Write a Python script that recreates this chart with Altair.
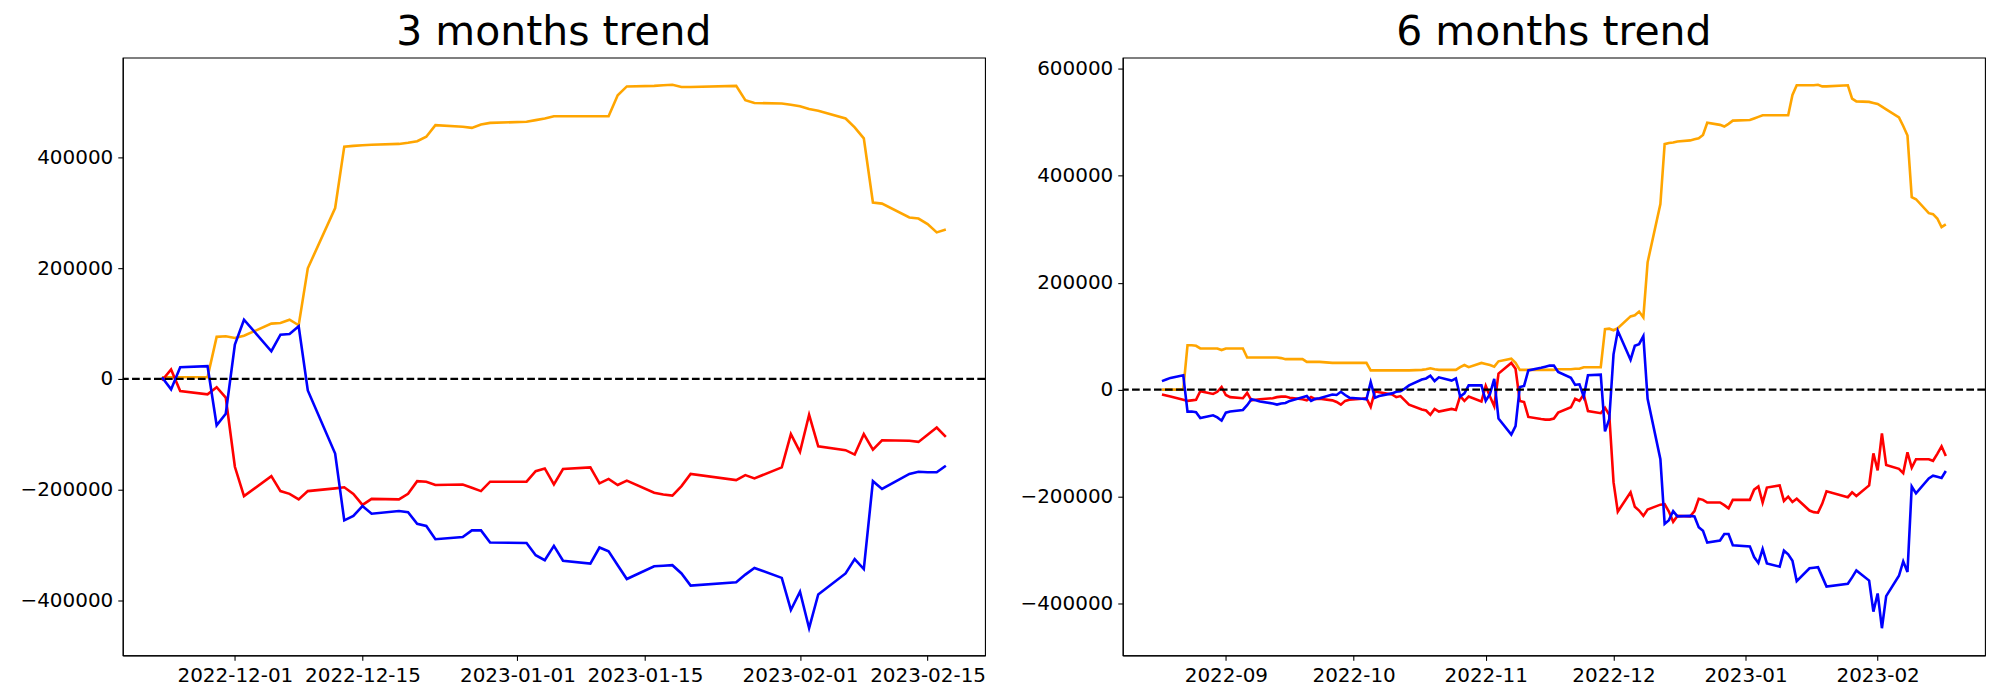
import altair as alt
import pandas as pd

# ---------------- 3 months panel ----------------
dates_3m = [
    "2022-11-23", "2022-11-24", "2022-11-25", "2022-11-28", "2022-11-29", "2022-11-30",
    "2022-12-01", "2022-12-02", "2022-12-05", "2022-12-06", "2022-12-07", "2022-12-08", "2022-12-09",
    "2022-12-12", "2022-12-13", "2022-12-14", "2022-12-15", "2022-12-16",
    "2022-12-19", "2022-12-20", "2022-12-21", "2022-12-22", "2022-12-23",
    "2022-12-26", "2022-12-27", "2022-12-28", "2022-12-29",
    "2023-01-02", "2023-01-03", "2023-01-04", "2023-01-05", "2023-01-06",
    "2023-01-09", "2023-01-10", "2023-01-11", "2023-01-12", "2023-01-13",
    "2023-01-16", "2023-01-17", "2023-01-18", "2023-01-19", "2023-01-20",
    "2023-01-25", "2023-01-26", "2023-01-27",
    "2023-01-30", "2023-01-31", "2023-02-01", "2023-02-02", "2023-02-03",
    "2023-02-06", "2023-02-07", "2023-02-08", "2023-02-09", "2023-02-10",
    "2023-02-13", "2023-02-14", "2023-02-15", "2023-02-16", "2023-02-17",
]
orange_3m = [
    3000, 3000, 3000, 3000, 76000, 77000,
    74000, 78000, 100000, 101000, 107000, 97000, 200000,
    309000, 420000, 421500, 422500, 423500,
    425000, 427000, 430000, 438000, 459000,
    456000, 454000, 460000, 463000,
    465000, 468000, 471000, 475000, 475000,
    475000, 475000, 475000, 513000, 529000,
    530000, 531000, 532000, 528000, 528000,
    530000, 504000, 499000,
    498000, 496000, 493000, 488000, 485000,
    471000, 455000, 435000, 319000, 317000,
    292000, 290000, 280000, 265000, 270000,
]
red_3m = [
    -3000, 17000, -22000, -28000, -15000, -34000,
    -159000, -212000, -176000, -203000, -208000, -218000, -203000,
    -198000, -196000, -208000, -228000, -217000,
    -218000, -208000, -185000, -186000, -192000,
    -191000, -197000, -203000, -186000,
    -186000, -167000, -162000, -191000, -163000,
    -160000, -189000, -181000, -192000, -184000,
    -206000, -209000, -211000, -194000, -172000,
    -183000, -174000, -180000,
    -160000, -100000, -132000, -65000, -122000,
    -129000, -137000, -100000, -128000, -111000,
    -112000, -114000, -101000, -88000, -105000,
]
blue_3m = [
    3000, -19000, 21000, 23000, -84000, -63000,
    62000, 107000, 50000, 80000, 81000, 95000, -21000,
    -135000, -256000, -248000, -230000, -244000,
    -239000, -241000, -262000, -266000, -290000,
    -286000, -274000, -274000, -296000,
    -297000, -319000, -328000, -302000, -329000,
    -334000, -305000, -312000, -337000, -362000,
    -339000, -338000, -337000, -352000, -374000,
    -368000, -354000, -342000,
    -360000, -418000, -385000, -451000, -390000,
    -352000, -326000, -344000, -185000, -199000,
    -172000, -168000, -169000, -169000, -157000,
]

# ---------------- 6 months panel ----------------
dates_6m = [
    "2022-08-17", "2022-08-18", "2022-08-19", "2022-08-22", "2022-08-23", "2022-08-24",
    "2022-08-25", "2022-08-26", "2022-08-29", "2022-08-30", "2022-08-31",
    "2022-09-01", "2022-09-02", "2022-09-05", "2022-09-06", "2022-09-07", "2022-09-08",
    "2022-09-09", "2022-09-12", "2022-09-13", "2022-09-14", "2022-09-15", "2022-09-16",
    "2022-09-19", "2022-09-20", "2022-09-21", "2022-09-22", "2022-09-23", "2022-09-26",
    "2022-09-27", "2022-09-28", "2022-09-29", "2022-09-30",
    "2022-10-03", "2022-10-04", "2022-10-05", "2022-10-06", "2022-10-07", "2022-10-10",
    "2022-10-11", "2022-10-12", "2022-10-13", "2022-10-14", "2022-10-17", "2022-10-18",
    "2022-10-19", "2022-10-20", "2022-10-21", "2022-10-24", "2022-10-25", "2022-10-26",
    "2022-10-27", "2022-10-28", "2022-10-31",
    "2022-11-01", "2022-11-02", "2022-11-03", "2022-11-04", "2022-11-07", "2022-11-08",
    "2022-11-09", "2022-11-10", "2022-11-11", "2022-11-14", "2022-11-15", "2022-11-16",
    "2022-11-17", "2022-11-18", "2022-11-21", "2022-11-22",
    "2022-11-23", "2022-11-24", "2022-11-25", "2022-11-28", "2022-11-29", "2022-11-30",
    "2022-12-01", "2022-12-02", "2022-12-05", "2022-12-06", "2022-12-07", "2022-12-08", "2022-12-09",
    "2022-12-12", "2022-12-13", "2022-12-14", "2022-12-15", "2022-12-16",
    "2022-12-19", "2022-12-20", "2022-12-21", "2022-12-22", "2022-12-23",
    "2022-12-26", "2022-12-27", "2022-12-28", "2022-12-29",
    "2023-01-02", "2023-01-03", "2023-01-04", "2023-01-05", "2023-01-06",
    "2023-01-09", "2023-01-10", "2023-01-11", "2023-01-12", "2023-01-13",
    "2023-01-16", "2023-01-17", "2023-01-18", "2023-01-19", "2023-01-20",
    "2023-01-25", "2023-01-26", "2023-01-27",
    "2023-01-30", "2023-01-31", "2023-02-01", "2023-02-02", "2023-02-03",
    "2023-02-06", "2023-02-07", "2023-02-08", "2023-02-09", "2023-02-10",
    "2023-02-13", "2023-02-14", "2023-02-15", "2023-02-16", "2023-02-17",
]
orange_6m = [
    0, 0, 0, 0, 83000, 83000,
    82000, 77000, 77000, 77000, 74000,
    77000, 77000, 77000, 60000, 60000, 60000,
    60000, 60000, 60000, 59000, 57000, 57000,
    57000, 52000, 52000, 52000, 52000, 50000,
    50000, 50000, 50000, 50000,
    50000, 50000, 36000, 36000, 36000, 36000,
    36000, 36000, 36000, 36000, 37000, 38000,
    40000, 38000, 37000, 37000, 37000, 42000,
    46000, 42000, 50000,
    48000, 46000, 43000, 53000, 58000, 50000,
    37000, 37000, 37000, 37000, 37000, 37000,
    37000, 38000, 38000, 39000,
    39000, 42000, 42000, 42000, 113000, 114000,
    111000, 115000, 137000, 139000, 146000, 135000, 238000,
    347000, 459000, 461000, 462000, 464000,
    466000, 468000, 470000, 476000, 499000,
    495000, 492000, 497000, 503000,
    504000, 507000, 510000, 513000, 513000,
    513000, 513000, 513000, 551000, 569000,
    569000, 569000, 570000, 567000, 567000,
    569000, 544000, 539000,
    538000, 536000, 534000, 529000, 524000,
    509000, 493000, 475000, 360000, 356000,
    330000, 328000, 320000, 304000, 309000,
]
red_6m = [
    -9000, -11000, -13000, -19000, -21000, -20000,
    -19000, -3000, -8000, -4000, 5000,
    -10000, -14000, -16000, -6000, -20000, -19000,
    -18000, -16000, -14000, -13000, -13000, -15000,
    -18000, -20000, -14000, -18000, -17000, -20000,
    -23000, -28000, -21000, -19000,
    -17000, -16000, -32000, -3000, -5000, -9000,
    -14000, -12000, -20000, -28000, -37000, -39000,
    -47000, -36000, -41000, -36000, -38000, -12000,
    -21000, -13000, -22000,
    7000, -13000, -31000, 30000, 50000, 39000,
    -21000, -23000, -51000, -55000, -56000, -56000,
    -54000, -43000, -33000, -17000,
    -21000, -9000, -40000, -44000, -34000, -47000,
    -173000, -228000, -192000, -219000, -226000, -236000, -224000,
    -215000, -214000, -228000, -247000, -236000,
    -237000, -227000, -204000, -206000, -211000,
    -211000, -216000, -222000, -206000,
    -206000, -187000, -181000, -211000, -183000,
    -179000, -208000, -200000, -210000, -204000,
    -226000, -229000, -230000, -213000, -190000,
    -201000, -192000, -199000,
    -179000, -119000, -151000, -82000, -141000,
    -148000, -156000, -117000, -146000, -130000,
    -130000, -133000, -120000, -106000, -124000,
]
blue_6m = [
    16000, 19000, 22000, 27000, -41000, -41000,
    -42000, -53000, -48000, -52000, -58000,
    -43000, -41000, -38000, -29000, -18000, -20000,
    -22000, -26000, -28000, -26000, -25000, -21000,
    -14000, -12000, -21000, -17000, -16000, -9000,
    -10000, -4000, -10000, -15000,
    -17000, -18000, 14000, -15000, -12000, -7000,
    -4000, -3000, 2000, 8000, 19000, 21000,
    26000, 16000, 23000, 17000, 21000, -13000,
    -7000, 8000, 8000,
    -21000, -8000, 20000, -54000, -84000, -68000,
    5000, 7000, 36000, 41000, 43000, 45000,
    45000, 33000, 22000, 9000,
    10000, -13000, 27000, 28000, -78000, -55000,
    66000, 110000, 56000, 82000, 85000, 100000, -17000,
    -130000, -251000, -244000, -227000, -237000,
    -236000, -237000, -257000, -264000, -286000,
    -282000, -270000, -270000, -291000,
    -293000, -313000, -324000, -298000, -325000,
    -331000, -301000, -308000, -320000, -358000,
    -334000, -333000, -332000, -350000, -368000,
    -363000, -351000, -338000,
    -357000, -415000, -381000, -446000, -386000,
    -348000, -321000, -341000, -181000, -194000,
    -166000, -161000, -163000, -165000, -152000,
]

series_names = ["orange", "red", "blue"]
series_colors = ["orange", "red", "blue"]

ticks_3m = [(2022, 12, 1), (2022, 12, 15), (2023, 1, 1), (2023, 1, 15), (2023, 2, 1), (2023, 2, 15)]
ticks_6m = [(2022, 9, 1), (2022, 10, 1), (2022, 11, 1), (2022, 12, 1), (2023, 1, 1), (2023, 2, 1)]
yticks_3m = [-400000, -200000, 0, 200000, 400000]
yticks_6m = [-400000, -200000, 0, 200000, 400000, 600000]

FONT = "DejaVu Sans"
PLOT_W = 864
PLOT_H = 599


def to_dt(ts):
    return alt.DateTime(year=int(ts.year), month=int(ts.month), date=int(ts.day),
                        hours=int(ts.hour), minutes=int(ts.minute))


def panel(dates, values_list, title, ticks, fmt, yticks):
    ts = pd.to_datetime(pd.Series(dates))
    span = ts.max() - ts.min()
    xmin = ts.min() - span * 0.05
    xmax = ts.max() + span * 0.05
    allv = [v for vals in values_list for v in vals]
    vmin, vmax = min(allv), max(allv)
    vr = vmax - vmin
    yscale = alt.Scale(domain=[vmin - 0.05 * vr, vmax + 0.05 * vr], nice=False, zero=False)
    xscale = alt.Scale(domain=[to_dt(xmin), to_dt(xmax)], nice=False)
    xaxis = alt.Axis(values=[alt.DateTime(year=y, month=m, date=d) for (y, m, d) in ticks],
                     format=fmt, formatType="time", title=None, grid=False,
                     labelOverlap=False, labelFlush=False)
    yaxis = alt.Axis(values=yticks, format="d", title=None, grid=False,
                     minExtent=106, maxExtent=106, labelOverlap=False, labelFlush=False)
    layers = []
    for name, col, vals in zip(series_names, series_colors, values_list):
        df = pd.DataFrame({"date": [d + "T00:00:00" for d in dates], "value": vals})
        layers.append(
            alt.Chart(df).mark_line(color=col, strokeWidth=2.6).encode(
                x=alt.X("date:T", scale=xscale, axis=xaxis),
                y=alt.Y("value:Q", scale=yscale, axis=yaxis),
            )
        )
    rule = alt.Chart(pd.DataFrame({"value": [0]})).mark_rule(
        color="black", strokeDash=[7.7, 3.3], strokeWidth=2.3
    ).encode(y=alt.Y("value:Q", scale=yscale, axis=yaxis))
    layers.append(rule)
    return alt.layer(*layers).properties(
        width=PLOT_W, height=PLOT_H,
        title=alt.TitleParams(title, fontSize=41, font=FONT, fontWeight="normal",
                              color="black", anchor="middle", offset=4),
    )


left = panel(dates_3m, [orange_3m, red_3m, blue_3m], "3 months trend", ticks_3m, "%Y-%m-%d", yticks_3m)
right = panel(dates_6m, [orange_6m, red_6m, blue_6m], "6 months trend", ticks_6m, "%Y-%m", yticks_6m)

chart = alt.hconcat(left, right, spacing=29).properties(
    padding={"left": 8, "top": 2, "right": 5, "bottom": 5}
).configure_view(
    stroke="black", strokeWidth=1.1
).configure_axis(
    labelFont=FONT, labelFontSize=20, labelColor="black",
    tickColor="black", tickSize=5, tickWidth=1.1,
    domainColor="black", domainWidth=1.1, labelPadding=5,
)

chart.save("out.html", embed_options={"renderer": "svg", "actions": False})
